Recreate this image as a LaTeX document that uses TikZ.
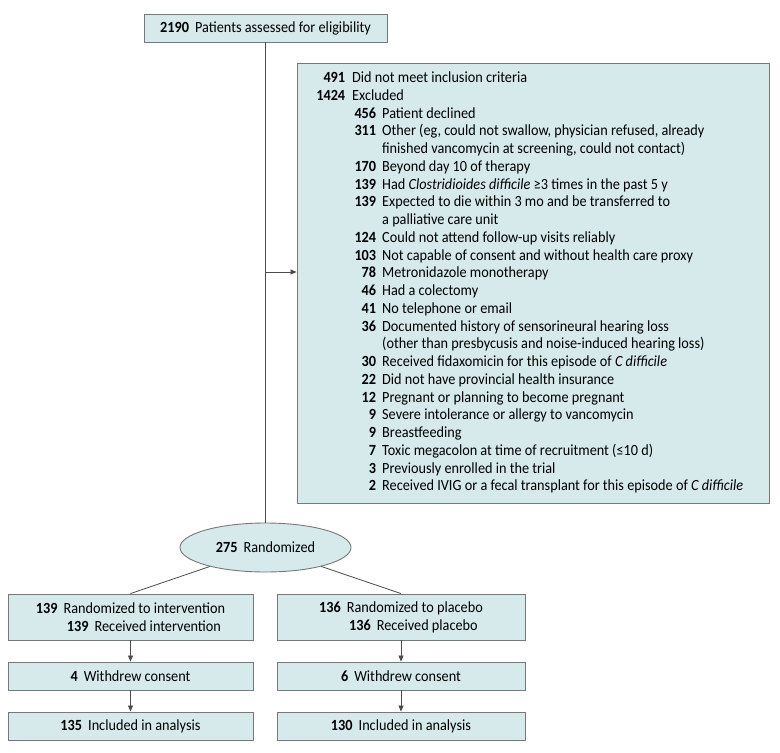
\documentclass[tikz,border=0pt]{standalone}
\usepackage{fontspec}
\setmainfont{Carlito}[FakeStretch=0.92]
\usetikzlibrary{shapes.geometric,arrows.meta}
\definecolor{boxfill}{RGB}{214,233,235}
\definecolor{boxline}{RGB}{120,120,120}
\definecolor{conn}{RGB}{75,75,75}
\newcommand{\NA}[2]{\makebox[35pt][r]{\bfseries #1}\hspace{7pt}#2}
\newcommand{\NB}[2]{\hspace*{31pt}\makebox[35pt][r]{\bfseries #1}\hspace{6pt}#2}
\newcommand{\NC}[1]{\hspace*{72pt}#1}
\tikzset{
  flowbox/.style={draw=boxline, fill=boxfill, line width=0.9pt, inner sep=0pt, rectangle},
  conline/.style={draw=conn, line width=0.8pt},
  arr/.style={conline, -{Triangle[length=6pt,width=5pt]}},
  txt/.style={font=\fontsize{15.5}{17.74}\selectfont}
}
\begin{document}
\begin{tikzpicture}[x=1pt,y=-1pt,txt]
\useasboundingbox (0,0) rectangle (780,753);
% top box
\node[flowbox, minimum width=243pt, minimum height=28pt] (top) at (265.5,28)
  {\textbf{2190}\hspace{6pt}Patients assessed for eligibility};
% exclusion box
\node[flowbox, minimum width=472pt, minimum height=440pt] (exbox) at (533,283) {};
\node[anchor=north west, inner sep=0pt, align=left] (extext) at (310,71.8) {%
\NA{491}{Did not meet inclusion criteria}\\
\NA{1424}{Excluded}\\
\NB{456}{Patient declined}\\
\NB{311}{Other (eg, could not swallow, physician refused, already}\\
\NC{finished vancomycin at screening, could not contact)}\\
\NB{170}{Beyond day 10 of therapy}\\
\NB{139}{Had \textit{Clostridioides difficile} ≥3 times in the past 5 y}\\
\NB{139}{Expected to die within 3 mo and be transferred to}\\
\NC{a palliative care unit}\\
\NB{124}{Could not attend follow-up visits reliably}\\
\NB{103}{Not capable of consent and without health care proxy}\\
\NB{78}{Metronidazole monotherapy}\\
\NB{46}{Had a colectomy}\\
\NB{41}{No telephone or email}\\
\NB{36}{Documented history of sensorineural hearing loss}\\
\NC{(other than presbycusis and noise-induced hearing loss)}\\
\NB{30}{Received fidaxomicin for this episode of \textit{C difficile}}\\
\NB{22}{Did not have provincial health insurance}\\
\NB{12}{Pregnant or planning to become pregnant}\\
\NB{9}{Severe intolerance or allergy to vancomycin}\\
\NB{9}{Breastfeeding}\\
\NB{7}{Toxic megacolon at time of recruitment (≤10 d)}\\
\NB{3}{Previously enrolled in the trial}\\
\NB{2}{Received IVIG or a fecal transplant for this episode of \textit{C difficile}}};
% ellipse
\node[flowbox, ellipse, minimum width=171pt, minimum height=49pt] (rand) at (265.5,547.5)
  {\textbf{275}\hspace{6pt}Randomized};
% bottom boxes
\node[flowbox, minimum width=245pt, minimum height=46pt, align=left] (int1) at (130.5,617)
  {\textbf{139}\hspace{6pt}Randomized to intervention\\\hspace*{31pt}\textbf{139}\hspace{6pt}Received intervention};
\node[flowbox, minimum width=248pt, minimum height=46pt, align=left] (pla1) at (401,617)
  {\textbf{136}\hspace{6pt}Randomized to placebo\\\hspace*{30pt}\textbf{136}\hspace{6pt}Received placebo};
\node[flowbox, minimum width=245pt, minimum height=28pt] (int2) at (130.5,676)
  {\textbf{4}\hspace{6pt}Withdrew consent};
\node[flowbox, minimum width=248pt, minimum height=28pt] (pla2) at (401,676)
  {\textbf{6}\hspace{6pt}Withdrew consent};
\node[flowbox, minimum width=245pt, minimum height=28pt] (int3) at (130.5,726)
  {\textbf{135}\hspace{6pt}Included in analysis};
\node[flowbox, minimum width=248pt, minimum height=28pt] (pla3) at (401,726)
  {\textbf{130}\hspace{6pt}Included in analysis};
% connectors
\coordinate (branch) at (265.5,272);
\draw[conline] (top.south) -- (rand.north);
\draw[arr] (branch) -- (branch -| exbox.west);
\draw[conline] (rand) -- (int1.north);
\draw[conline] (rand) -- (pla1.north);
\draw[arr] (int1.south) -- (int2.north);
\draw[arr] (int2.south) -- (int3.north);
\draw[arr] (pla1.south) -- (pla2.north);
\draw[arr] (pla2.south) -- (pla3.north);
\end{tikzpicture}
\end{document}
